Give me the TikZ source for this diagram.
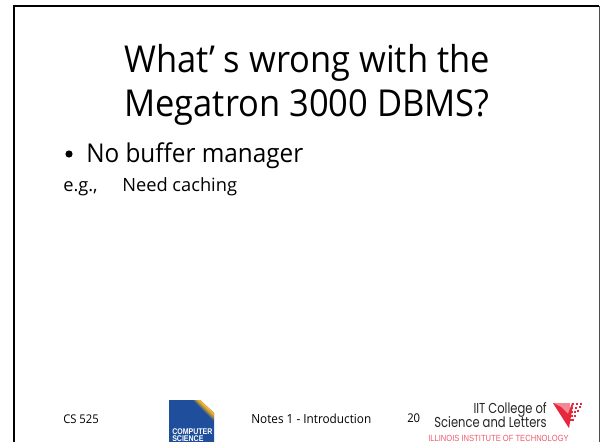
\documentclass[tikz,border=0pt]{standalone}
\usepackage{fontspec}
\setmainfont{Open Sans}
\newfontfamily\titlefont[FakeStretch=0.93]{Open Sans}
\newfontfamily\smallfont[FakeStretch=0.94]{Open Sans}
\newfontfamily\logofont[FakeStretch=0.85]{Liberation Sans}
\newfontfamily\scifont[FakeStretch=0.8]{Poppins}
\definecolor{csblue}{HTML}{1F4F9C}
\definecolor{iitred}{HTML}{E8263C}
\definecolor{foldorange}{HTML}{F5B020}
\tikzset{
  px/.style={x=0.75pt,y=-0.75pt},
  slidetext/.style={inner sep=0pt,anchor=base west,text=black},
  titletext/.style={inner sep=0pt,anchor=base,text=black,font=\titlefont\fontsize{27.8}{28}\selectfont},
  smalltext/.style={slidetext,font=\smallfont\fontsize{9}{9}\selectfont},
  logotext/.style={inner sep=0pt,anchor=base west,text=white,font=\logofont\bfseries\fontsize{6.2}{6.2}\selectfont},
  collegetext/.style={inner sep=0pt,anchor=base east,text=black!85,font=\scifont\fontsize{10.8}{11}\selectfont},
}
\begin{document}
\begin{tikzpicture}[px]
\useasboundingbox (0,0) rectangle (600,442);
\fill[white] (0,0) rectangle (600,442);
\draw[line width=1.5pt,black] (14,442) -- (14,6) -- (599,6);
\draw[line width=0.75pt,black!70] (599,6) -- (599,442);
\node[titletext] (t1) at (307,73) {What’ s wrong with the};
\node[titletext] (t2) at (307,117) {Megatron 3000 DBMS?};
\node[slidetext,font=\smallfont\fontsize{19.4}{19}\selectfont] (b) at (86,163) {No buffer manager};
\fill[black] (69,154) circle (3.6);
\node[slidetext,font=\fontsize{13.7}{14}\selectfont] (e) at (63,192) {e.g.,};
\node[slidetext,font=\fontsize{13.7}{14}\selectfont] (n) at (122,192) {Need caching};
\node[smalltext] (c) at (63,423) {CS 525};
\node[smalltext,font=\smallfont\fontsize{9.4}{9}\selectfont] (no) at (251,423) {Notes 1 - Introduction};
\node[smalltext] (p) at (407,422) {20};
\fill[csblue] (169,400) -- (200,400) -- (214,413) -- (214,442) -- (169,442) -- cycle;
\begin{scope}
\clip (169,400) -- (200,400) -- (214,413) -- (214,442) -- (169,442) -- cycle;
\foreach \d/\m in {7/15,6/30,5/45,4/60,3/72,2/85,1/100}
  \draw[line width=1.6pt,foldorange!\m!csblue] (200-\d,400-\d*0.2) -- (214,413+\d);
\end{scope}
\node[logotext] (l1) at (172,434) {COMPUTER};
\node[logotext] (l2) at (172,441.5) {SCIENCE};
\node[collegetext] (i1) at (547,413) {IIT College of};
\node[collegetext] (i2) at (547,427) {Science and Letters};
\node[inner sep=0pt,anchor=base,text=iitred!75,font=\logofont\fontsize{6.7}{6.7}\selectfont] (i3) at (498.5,441) {ILLINOIS INSTITUTE OF TECHNOLOGY};
\fill[iitred!55] (553,403) -- (570,403) -- (569,428) -- cycle;
\fill[iitred] (553,403) -- (561,407) -- (568,414) -- (572,403) -- (573,405) -- (569,428) -- cycle;
\foreach \px/\py in {572/403,576/403,580/403,571/407,575/407,579/406,571/411,574/411,577/410,571/415,574/415,570/419,572/419}
  \fill[iitred] (\px,\py) rectangle ++(2.2,2.2);
\end{tikzpicture}
\end{document}
